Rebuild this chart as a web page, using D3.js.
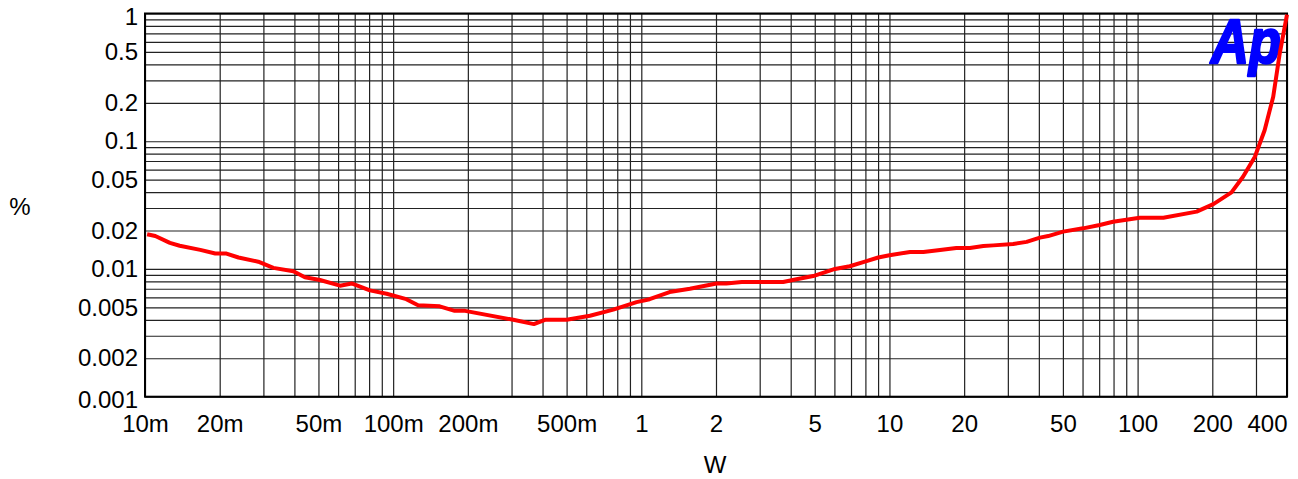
<!DOCTYPE html>
<html>
<head>
<meta charset="utf-8">
<script src="https://cdn.jsdelivr.net/npm/d3@7"></script>
<style>
  html, body { margin: 0; padding: 0; background: #fff; }
  svg { display: block; }
  text { font-family: "Liberation Sans", Arial, sans-serif; fill: #000; }
</style>
</head>
<body>
<svg id="chart" width="1298" height="479"></svg>
<script>
// ---- data ----
const powerW = [0.0102, 0.0110, 0.0126, 0.0138, 0.0167, 0.0192, 0.0213, 0.0238, 0.0286, 0.0329,
  0.0396, 0.0441, 0.0507, 0.0611, 0.0680, 0.0806, 0.0941, 0.113, 0.126, 0.154,
  0.177, 0.195, 0.305, 0.369, 0.409, 0.500, 0.621, 0.771, 0.957, 1.08,
  1.30, 1.57, 2.01, 2.20, 2.54, 3.73, 4.22, 4.93, 5.75, 6.03,
  6.92, 7.96, 9.01, 10.0, 12.1, 13.7, 16.0, 18.6, 21.1, 23.9,
  26.2, 31.5, 35.7, 40.4, 43.6, 50.1, 60.3, 70.4, 79.6, 102,
  127, 173, 202, 239, 266, 297, 325, 352, 374, 400];
const thdnPct = [0.0187, 0.0181, 0.0160, 0.0152, 0.0141, 0.0132, 0.0132, 0.0123, 0.0114, 0.0102,
  0.0096, 0.0086, 0.0082, 0.0074, 0.0077, 0.0068, 0.0064, 0.0058, 0.0052, 0.0051,
  0.0047, 0.0047, 0.0040, 0.0037, 0.0040, 0.0040, 0.0043, 0.0048, 0.0055, 0.0058,
  0.0066, 0.0070, 0.0077, 0.0077, 0.0079, 0.0079, 0.0083, 0.0088, 0.0097, 0.0100,
  0.0105, 0.0114, 0.0123, 0.0128, 0.0136, 0.0136, 0.0141, 0.0146, 0.0146, 0.0151,
  0.0153, 0.0157, 0.0163, 0.0176, 0.0181, 0.0196, 0.0208, 0.0221, 0.0234, 0.0252,
  0.0252, 0.0281, 0.0322, 0.0398, 0.0527, 0.0756, 0.122, 0.223, 0.488, 0.98];

const xTickValues = [0.01, 0.02, 0.05, 0.1, 0.2, 0.5, 1, 2, 5, 10, 20, 50, 100, 200, 400];
const xTickLabels = ["10m", "20m", "50m", "100m", "200m", "500m", "1", "2", "5", "10", "20", "50", "100", "200", "400"];
const yTickValues = [0.001, 0.002, 0.005, 0.01, 0.02, 0.05, 0.1, 0.2, 0.5, 1];
const yTickLabels = ["0.001", "0.002", "0.005", "0.01", "0.02", "0.05", "0.1", "0.2", "0.5", "1"];
const xDomain = [0.01, 400];
const yDomain = [0.001, 1];
const xTitle = "W";
const yTitle = "%";

// ---- layout ----
const pL = 145, pR = 1287, pT = 13.5, pB = 396.7;
const fontSize = 24;
const svg = d3.select("#chart");
svg.append("rect").attr("width", 1298).attr("height", 479).attr("fill", "#fff");

const x = d3.scaleLog().domain(xDomain).range([pL, pR]);
const y = d3.scaleLog().domain(yDomain).range([pB, pT]);

// grid values: 1..9 per decade
function logGrid(lo, hi) {
  const out = [];
  for (let e = Math.floor(Math.log10(lo)); e <= Math.ceil(Math.log10(hi)); e++) {
    for (let m = 1; m <= 9; m++) {
      const v = m * Math.pow(10, e);
      if (v >= lo * 0.9999 && v <= hi * 1.0001) out.push(v);
    }
  }
  return out;
}

const gridColor = "#222";
svg.append("g")
  .attr("transform", `translate(0,${pB})`)
  .call(d3.axisBottom(x).tickValues(logGrid(xDomain[0], xDomain[1])).tickSize(-(pB - pT)).tickFormat(""))
  .call(g => g.select(".domain").remove())
  .call(g => g.selectAll("line").attr("stroke", gridColor).attr("stroke-width", 1.2));

svg.append("g")
  .attr("transform", `translate(${pL},0)`)
  .call(d3.axisLeft(y).tickValues(logGrid(yDomain[0], yDomain[1])).tickSize(-(pR - pL)).tickFormat(""))
  .call(g => g.select(".domain").remove())
  .call(g => g.selectAll("line").attr("stroke", gridColor).attr("stroke-width", 1.2));

// frame
svg.append("rect")
  .attr("x", pL).attr("y", pT)
  .attr("width", pR - pL).attr("height", pB - pT)
  .attr("fill", "none").attr("stroke", "#000").attr("stroke-width", 2);

// Ap logo
svg.append("text")
  .attr("x", 1211).attr("y", 63)
  .attr("font-size", 63)
  .attr("font-weight", "bold")
  .attr("font-style", "italic")
  .attr("textLength", 70)
  .attr("lengthAdjust", "spacingAndGlyphs")
  .style("fill", "#0000ff")
  .style("stroke", "#0000ff")
  .style("stroke-width", 2.5)
  .style("stroke-linejoin", "round")
  .text("Ap");

// x tick labels
const xAxis = svg.append("g")
  .attr("transform", `translate(0,${pB})`)
  .call(d3.axisBottom(x).tickValues(xTickValues).tickSize(0).tickPadding(18)
    .tickFormat((d, i) => xTickLabels[i]));
xAxis.select(".domain").remove();
xAxis.selectAll("text")
  .attr("font-size", fontSize)
  .style("font-family", '"Liberation Sans", Arial, sans-serif')
  .style("fill", "#000")
  .attr("text-anchor", (d, i) => i === xTickValues.length - 1 ? "end" : "middle");

// y tick labels
const yAxis = svg.append("g")
  .attr("transform", `translate(${pL},0)`)
  .call(d3.axisLeft(y).tickValues(yTickValues).tickSize(0).tickPadding(7)
    .tickFormat((d, i) => yTickLabels[i]));
yAxis.select(".domain").remove();
yAxis.selectAll("text")
  .attr("font-size", fontSize)
  .style("font-family", '"Liberation Sans", Arial, sans-serif')
  .style("fill", "#000")
  .attr("y", (d, i) => (i === 0 || i === yTickValues.length - 1) ? 3 : 0);

// axis titles
svg.append("text").attr("x", 715).attr("y", 473).attr("text-anchor", "middle")
  .attr("font-size", fontSize).text(xTitle);
svg.append("text").attr("x", 20).attr("y", 215).attr("text-anchor", "middle")
  .attr("font-size", fontSize).text(yTitle);

// curve
const pts = powerW.map((p, i) => [p, thdnPct[i]]);
svg.append("path")
  .datum(pts)
  .attr("fill", "none")
  .attr("stroke", "#ff0000")
  .attr("stroke-width", 4)
  .attr("stroke-linejoin", "round")
  .attr("d", d3.line().x(d => x(d[0])).y(d => y(d[1])));
</script>
</body>
</html>
